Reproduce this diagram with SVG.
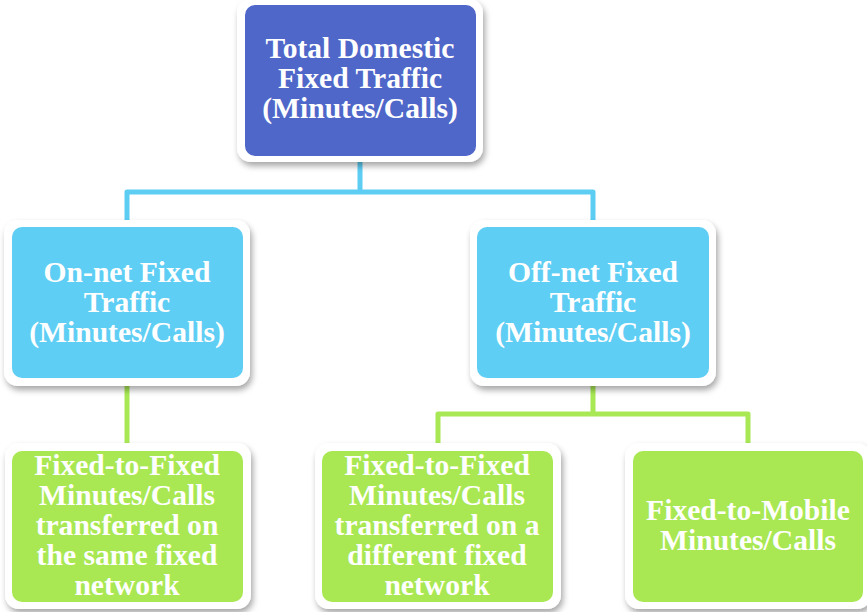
<svg xmlns="http://www.w3.org/2000/svg" width="867" height="612" viewBox="0 0 867 612">
<defs>
<filter id="sh" x="-10%" y="-10%" width="125%" height="130%">
<feDropShadow dx="2" dy="4" stdDeviation="3" flood-color="#000" flood-opacity="0.35"/>
</filter>
<style>
.frame{fill:#ffffff;filter:url(#sh);}
.top{fill:#4F67C9;}
.mid{fill:#5FCEF4;}
.low{fill:#A9E853;}
.t{font-family:"Liberation Serif","Times New Roman",serif;font-weight:bold;font-size:29.6px;fill:#ffffff;text-anchor:middle;}
.cb{fill:none;stroke:#5DCDF3;stroke-width:5;stroke-linejoin:round;}
.cg{fill:none;stroke:#A8E854;stroke-width:5;stroke-linejoin:round;}
</style>
</defs>
<g id="connectors">
<path class="cb" d="M360,160 V192 M127,222 V192 H593 V222"/>
<path class="cg" d="M127,383 V445"/>
<path class="cg" d="M593,383 V414 M438,445 V414 H748 V445"/>
</g>
<g id="n-total">
<rect class="frame" x="237" y="-1" width="246" height="163" rx="14"/>
<rect class="top" x="245" y="5" width="231" height="151" rx="10"/>
<text class="t" x="360" y="58">Total Domestic</text>
<text class="t" x="360" y="88">Fixed Traffic</text>
<text class="t" x="360" y="118">(Minutes/Calls)</text>
</g>
<g id="n-onnet">
<rect class="frame" x="4" y="220" width="246" height="166" rx="14"/>
<rect class="mid" x="12" y="227" width="231" height="151" rx="10"/>
<text class="t" x="127" y="282">On-net Fixed</text>
<text class="t" x="127" y="312">Traffic</text>
<text class="t" x="127" y="342">(Minutes/Calls)</text>
</g>
<g id="n-offnet">
<rect class="frame" x="470" y="220" width="246" height="166" rx="14"/>
<rect class="mid" x="477" y="227" width="232" height="151" rx="10"/>
<text class="t" x="593" y="282">Off-net Fixed</text>
<text class="t" x="593" y="312">Traffic</text>
<text class="t" x="593" y="342">(Minutes/Calls)</text>
</g>
<g id="n-f2f-same">
<rect class="frame" x="5" y="443" width="246" height="166" rx="14"/>
<rect class="low" x="12" y="451" width="231" height="151" rx="10"/>
<text class="t" x="127" y="475">Fixed-to-Fixed</text>
<text class="t" x="127" y="505">Minutes/Calls</text>
<text class="t" x="127" y="535">transferred on</text>
<text class="t" x="127" y="565">the same fixed</text>
<text class="t" x="127" y="595">network</text>
</g>
<g id="n-f2f-diff">
<rect class="frame" x="315" y="443" width="246" height="166" rx="14"/>
<rect class="low" x="322" y="451" width="231" height="151" rx="10"/>
<text class="t" x="437" y="475">Fixed-to-Fixed</text>
<text class="t" x="437" y="505">Minutes/Calls</text>
<text class="t" x="437" y="535">transferred on a</text>
<text class="t" x="437" y="565">different fixed</text>
<text class="t" x="437" y="595">network</text>
</g>
<g id="n-f2m">
<rect class="frame" x="625" y="443" width="246" height="166" rx="14"/>
<rect class="low" x="633" y="451" width="230" height="151" rx="10"/>
<text class="t" x="748" y="520">Fixed-to-Mobile</text>
<text class="t" x="748" y="550">Minutes/Calls</text>
</g>
</svg>
